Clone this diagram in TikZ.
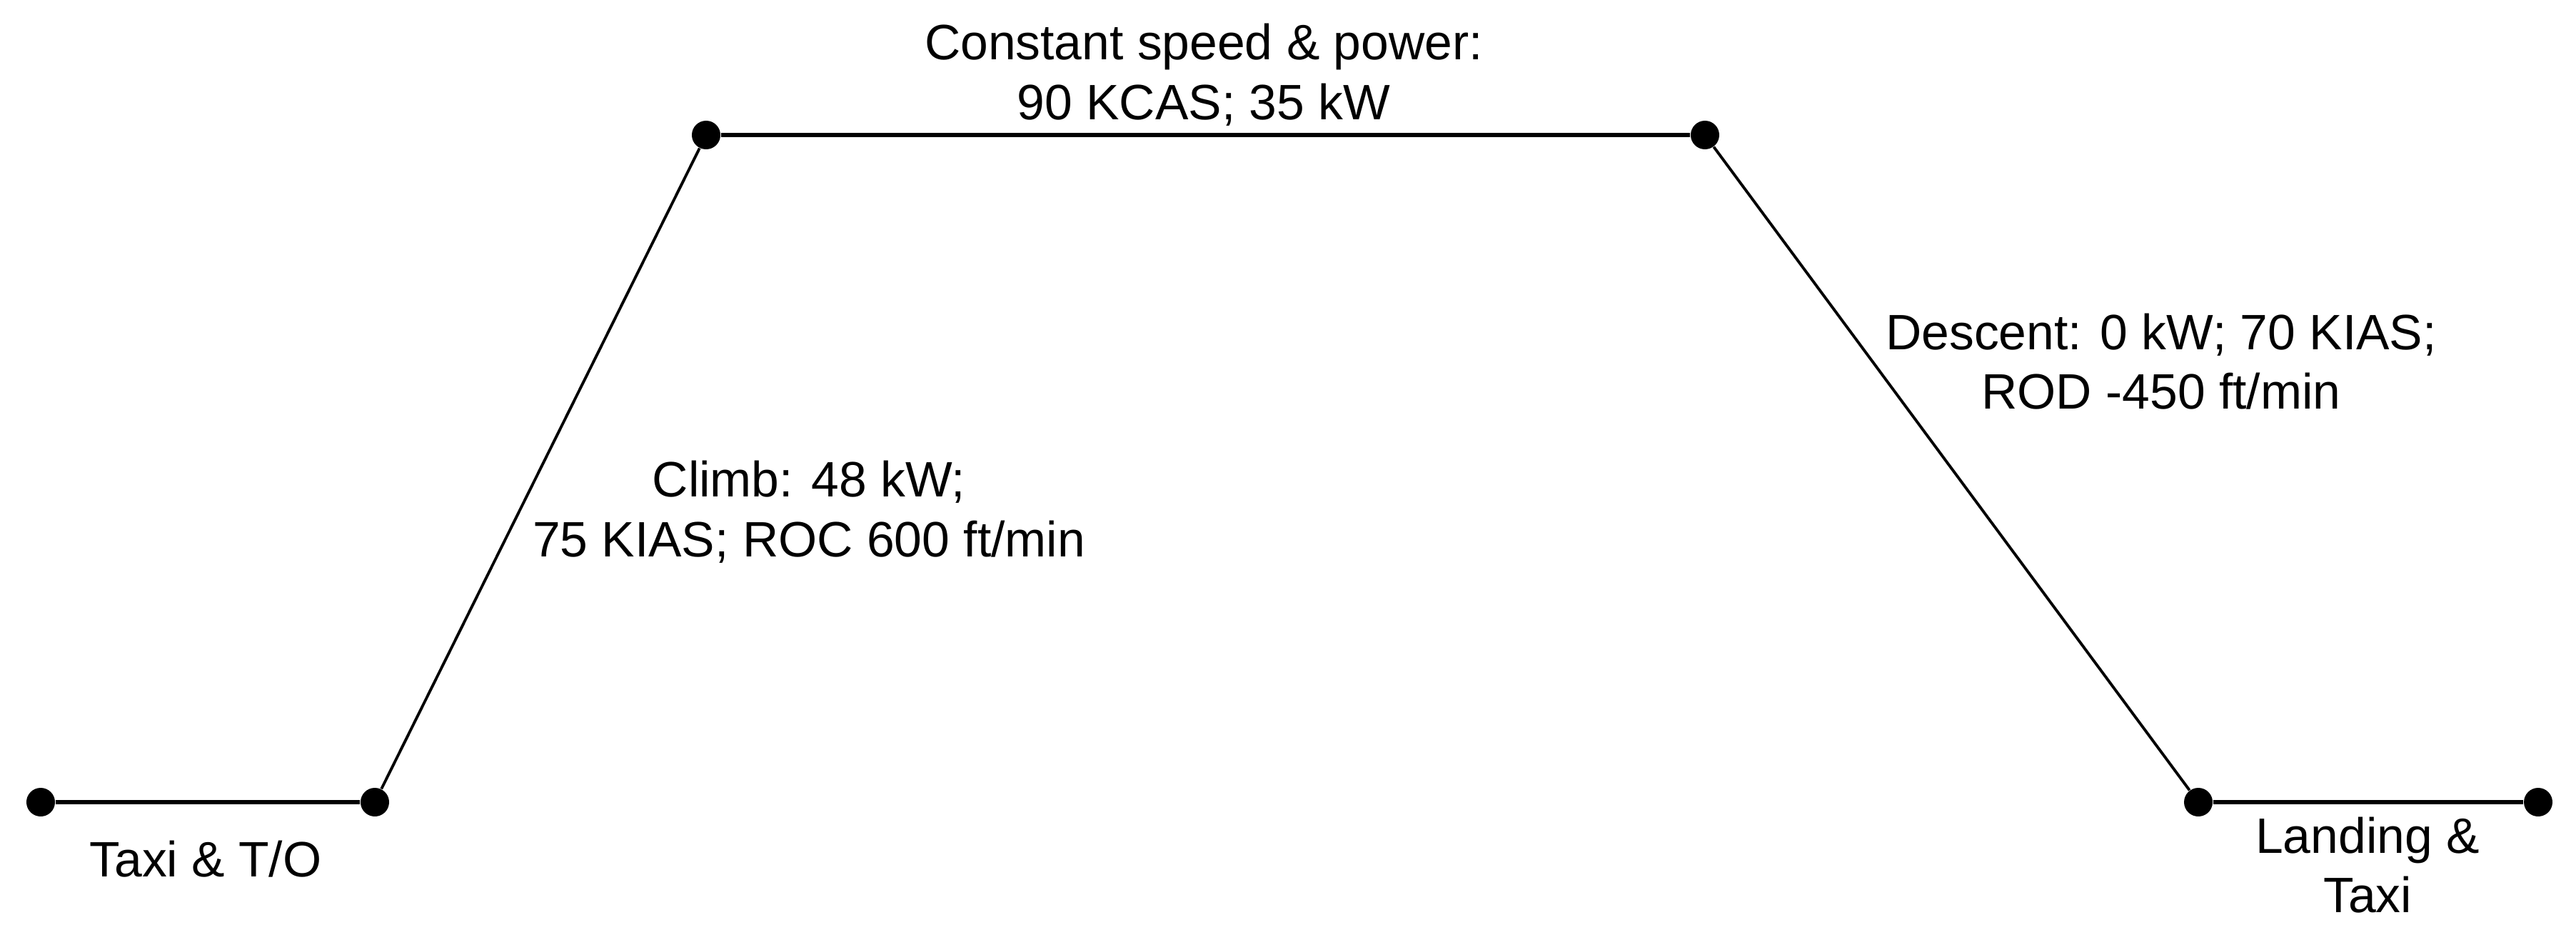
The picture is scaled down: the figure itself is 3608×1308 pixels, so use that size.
\documentclass[tikz,border=0pt]{standalone}
\usepackage{fontspec}
\setmainfont{Liberation Sans}
\usetikzlibrary{positioning}

\begin{document}
\begin{tikzpicture}[
    x=0.01cm, y=-0.01cm,
    point/.style={circle, fill=black, inner sep=0pt, minimum size=0.4cm},
    leg/.style={line width=1.5pt},
    slope/.style={line width=1.1pt},
    phase/.style={font=\fontsize{19.8}{23.8}\selectfont, align=center, inner sep=0pt}
]

\useasboundingbox (0,0) rectangle (3608,1308);

% flight profile points
\node[point] (ramp) at (57,1123) {};
\node[point] (liftoff) at (525,1123) {};
\node[point] (toc) at (989,189) {};
\node[point] (tod) at (2388,189) {};
\node[point] (touchdown) at (3079,1123) {};
\node[point] (stand) at (3555,1123) {};

\draw[leg] (ramp) -- (liftoff);
\draw[slope] (liftoff) -- (toc);
\draw[leg] (toc) -- (tod);
\draw[slope] (tod) -- (touchdown);
\draw[leg] (touchdown) -- (stand);

% phase labels
\node[phase] (taxiout) at (288,1203) {Taxi \& T/O};
\node[phase] (cruise) at (1686,105) {Constant speed \& power:\\90 KCAS; 35 kW};
\node[phase] (climb) at (1133,717) {Climb: 48 kW;\\75 KIAS; ROC 600 ft/min};
\node[phase] (descent) at (3027,506) {Descent: 0 kW; 70 KIAS;\\ROD -450 ft/min};
\node[phase] (taxiin) at (3316,1211) {Landing \&\\Taxi};

\end{tikzpicture}
\end{document}
